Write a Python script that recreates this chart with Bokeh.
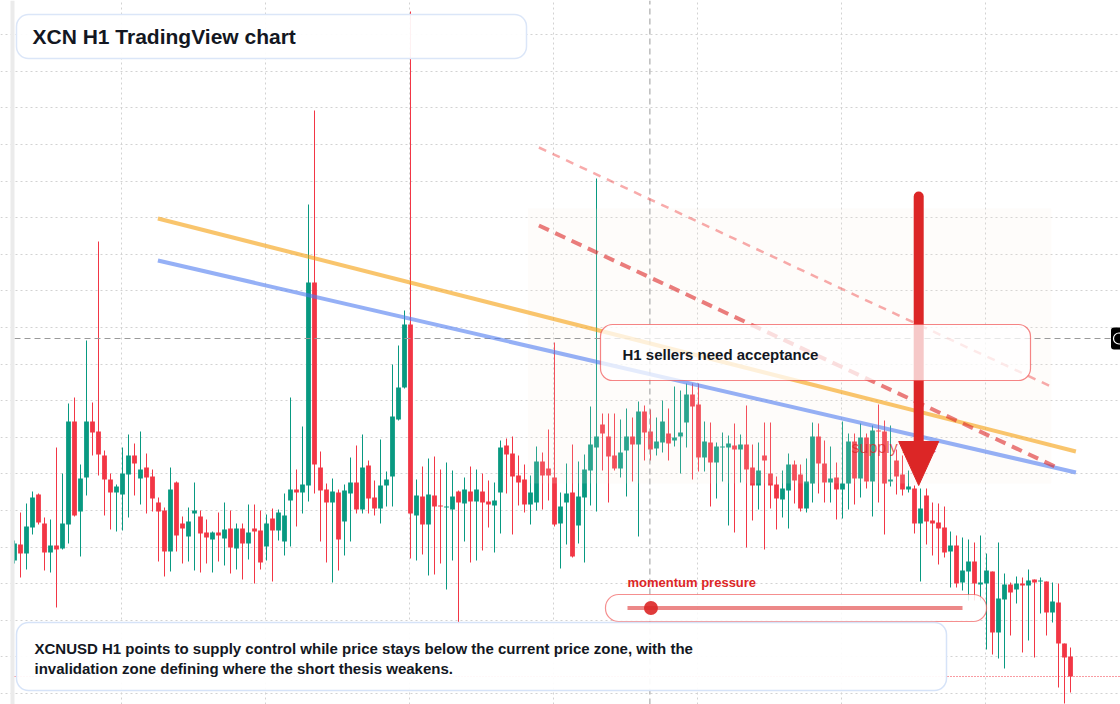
import numpy as np
from bokeh.plotting import figure
from bokeh.models import Range1d, Grid, FixedTicker
from bokeh.core.properties import value
from bokeh.embed import file_html
from bokeh.resources import INLINE

# XCNUSD hourly candles, quoted in millionths of a USD
open_ = [6088, 6120, 6102, 6154, 6220, 6162, 6104, 6118, 6112, 6160,
         6366, 6186, 6254, 6366, 6346, 6298, 6250, 6224, 6220, 6260,
         6298, 6252, 6274, 6256, 6204, 6188, 6106, 6244, 6162, 6136,
         6182, 6176, 6144, 6130, 6144, 6132, 6152, 6112, 6152, 6122,
         6152, 6148, 6116, 6172, 6148, 6126, 6208, 6230, 6224, 6238,
         6644, 6274, 6230, 6204, 6224, 6166, 6222, 6244, 6190, 6278,
         6214, 6192, 6238, 6256, 6370, 6434, 6560, 6178, 6216, 6160,
         6218, 6198, 6194, 6190, 6226, 6202, 6226, 6206, 6226, 6206,
         6198, 6224, 6318, 6302, 6258, 6250, 6200, 6204, 6286, 6272,
         6254, 6162, 6204, 6224, 6158, 6214, 6268, 6314, 6360, 6336,
         6298, 6272, 6308, 6336, 6320, 6386, 6346, 6312, 6324, 6342,
         6328, 6336, 6364, 6420, 6400, 6294, 6324, 6284, 6314, 6314,
         6318, 6310, 6320, 6274, 6238, 6298, 6262, 6240, 6210, 6228,
         6280, 6260, 6192, 6242, 6336, 6282, 6244, 6254, 6230, 6242,
         6326, 6252, 6334, 6246, 6348, 6346, 6246, 6288, 6260, 6230,
         6232, 6162, 6218, 6168, 6164, 6154, 6106, 6118, 6044, 6066,
         6086, 6040, 6042, 6066, 5944, 6010, 6040, 6030, 6042, 6038,
         6050, 6046, 6046, 5984, 6004, 5922, 5896]
high = [6128, 6184, 6202, 6226, 6222, 6174, 6170, 6314, 6262, 6402,
        6414, 6280, 6528, 6404, 6726, 6308, 6262, 6240, 6314, 6340,
        6322, 6346, 6302, 6270, 6214, 6194, 6274, 6246, 6176, 6194,
        6244, 6188, 6170, 6146, 6184, 6204, 6188, 6162, 6162, 6200,
        6200, 6188, 6180, 6192, 6190, 6222, 6414, 6270, 6356, 6800,
        6988, 6306, 6242, 6252, 6230, 6240, 6294, 6318, 6340, 6288,
        6248, 6330, 6266, 6480, 6518, 6588, 7186, 6250, 6276, 6292,
        6296, 6270, 6284, 6268, 6228, 6254, 6276, 6270, 6262, 6248,
        6244, 6328, 6332, 6336, 6298, 6280, 6258, 6316, 6304, 6350,
        6524, 6224, 6282, 6320, 6286, 6300, 6396, 6852, 6382, 6382,
        6382, 6370, 6392, 6374, 6406, 6398, 6390, 6374, 6408, 6392,
        6436, 6428, 6442, 6442, 6442, 6366, 6364, 6324, 6344, 6338,
        6362, 6340, 6398, 6320, 6324, 6364, 6364, 6256, 6268, 6302,
        6288, 6280, 6292, 6364, 6362, 6328, 6316, 6284, 6366, 6342,
        6342, 6362, 6342, 6358, 6400, 6368, 6358, 6310, 6298, 6268,
        6238, 6232, 6232, 6204, 6202, 6196, 6146, 6138, 6134, 6130,
        6124, 6138, 6102, 6066, 6124, 6062, 6044, 6056, 6054, 6070,
        6050, 6054, 6046, 6044, 6042, 5922, 5914]
low = [6082, 6054, 6070, 6140, 6160, 6068, 6064, 5994, 6110, 6122,
       6176, 6096, 6218, 6298, 6258, 6178, 6150, 6146, 6148, 6174,
       6218, 6200, 6182, 6186, 6086, 6056, 6066, 6106, 6082, 6086,
       6068, 6064, 6082, 6064, 6086, 6078, 6062, 6070, 6050, 6090,
       6042, 6070, 6088, 6046, 6128, 6098, 6116, 6156, 6182, 6206,
       6222, 6126, 6084, 6044, 6068, 6098, 6126, 6182, 6182, 6182,
       6178, 6162, 6196, 6196, 6368, 6432, 6092, 6088, 6100, 6058,
       6060, 6082, 6030, 6088, 5962, 6126, 6084, 6088, 6108, 6154,
       6104, 6142, 6222, 6140, 6198, 6184, 6160, 6188, 6190, 6208,
       6156, 6072, 6120, 6094, 6122, 6084, 6198, 6186, 6268, 6204,
       6268, 6254, 6216, 6246, 6136, 6288, 6288, 6298, 6304, 6288,
       6316, 6262, 6314, 6250, 6266, 6266, 6196, 6212, 6246, 6158,
       6144, 6244, 6114, 6168, 6190, 6110, 6192, 6150, 6174, 6152,
       6202, 6186, 6184, 6204, 6222, 6204, 6204, 6170, 6172, 6190,
       6200, 6214, 6232, 6176, 6204, 6140, 6236, 6220, 6218, 6224,
       6142, 6046, 6120, 6098, 6080, 6094, 6034, 6034, 6028, 6008,
       6008, 6008, 5910, 5900, 5892, 5872, 5938, 6002, 5904, 5928,
       5894, 5982, 5938, 5964, 5834, 5802, 5824]
close = [6122, 6102, 6156, 6214, 6164, 6104, 6118, 6110, 6162, 6366,
         6178, 6252, 6366, 6344, 6300, 6250, 6224, 6236, 6262, 6298,
         6282, 6270, 6254, 6212, 6186, 6106, 6230, 6138, 6152, 6166,
         6188, 6142, 6134, 6144, 6138, 6150, 6114, 6152, 6122, 6144,
         6146, 6084, 6162, 6148, 6184, 6178, 6230, 6224, 6240, 6644,
         6280, 6228, 6204, 6226, 6130, 6228, 6244, 6190, 6274, 6212,
         6192, 6238, 6250, 6376, 6434, 6560, 6182, 6218, 6160, 6220,
         6196, 6196, 6196, 6216, 6204, 6230, 6206, 6230, 6204, 6200,
         6208, 6314, 6300, 6256, 6244, 6200, 6224, 6286, 6258, 6258,
         6160, 6196, 6222, 6096, 6216, 6270, 6320, 6336, 6342, 6296,
         6272, 6304, 6336, 6320, 6386, 6344, 6310, 6326, 6366, 6322,
         6334, 6344, 6420, 6396, 6294, 6326, 6284, 6316, 6316, 6322,
         6310, 6320, 6270, 6238, 6268, 6288, 6238, 6212, 6232, 6280,
         6248, 6192, 6246, 6336, 6282, 6244, 6252, 6230, 6242, 6326,
         6252, 6334, 6246, 6348, 6346, 6242, 6250, 6256, 6230, 6236,
         6162, 6192, 6166, 6162, 6152, 6104, 6118, 6042, 6068, 6086,
         6042, 6044, 6068, 5944, 6012, 6040, 6024, 6042, 6038, 6048,
         6044, 6048, 5984, 6006, 5922, 5894, 5856]

# drawn structure: (bar index, price in millionths of a USD)
orange_trend_bar = [23.9, 176.9]
orange_trend_price = [6772, 6306]
blue_trend_bar = [23.9, 176.9]
blue_trend_price = [6688, 6264]
sell_path_bar = [87.4, 173.4]
sell_path_price = [6758, 6276]
outer_path_bar = [87.4, 173.1]
outer_path_price = [6914, 6434]
supply_zone_bar = [85.6, 172.8]
supply_zone_price = [6242, 6792]
arrow_bar = 150.7
arrow_price = [6816, 6326, 6238]   # tail, head base, tip
cursor_bar = 105.9
cursor_price = 6532
momentum_level = 0.07              # position of the pressure marker, 0..1

UNIT = 1e-6
o = np.array(open_) * UNIT
h = np.array(high) * UNIT
l = np.array(low) * UNIT
c = np.array(close) * UNIT
idx = np.arange(len(o))
up = c >= o

GREEN, RED = "#089981", "#f23645"
INK = "#131722"
FONT = value("Liberation Sans")

# screen geometry
W, H = 1120, 704
BAR0_PX, BAR_PX = 14.0, 6.0
TOP_PRICE, PX_PRICE = 0.007208, 2e-6


def bx(px):
    return (px - BAR0_PX) / BAR_PX


def py(px):
    return TOP_PRICE - px * PX_PRICE


p = figure(width=W, height=H, output_backend="svg", toolbar_location=None,
           x_range=Range1d(bx(0), bx(W)), y_range=Range1d(py(H), py(0)),
           x_axis_type=None, y_axis_type=None, min_border=0,
           outline_line_color=None, background_fill_color="white",
           border_fill_color="white")

# dotted grid
xt = [bx(121 + 144 * n) for n in range(7)]
yt = [py(693 - 36.6 * n) for n in range(19)]
for dim, ticks in ((0, xt), (1, yt)):
    g = Grid(dimension=dim, ticker=FixedTicker(ticks=ticks),
             grid_line_color="#d2d2d2", grid_line_dash="2 3",
             grid_line_width=1)
    p.add_layout(g)

# candles
for mask, col in ((up, GREEN), (~up, RED)):
    p.segment(idx[mask], l[mask], idx[mask], h[mask], line_color=col,
              line_width=1)
    p.vbar(x=idx[mask], width=0.8, top=np.maximum(o, c)[mask],
           bottom=np.minimum(o, c)[mask], fill_color=col, line_color=None)

# supply zone wash
zb = np.array(supply_zone_price) * UNIT
p.quad(left=[supply_zone_bar[0]], right=[supply_zone_bar[1]],
       bottom=[zb[0]], top=[zb[1]], fill_color="#f7e9dc", fill_alpha=0.15,
       line_color=None)

# cursor crosshair
p.segment([cursor_bar], [py(H)], [cursor_bar], [py(0)], line_color="#9a9a9a",
          line_dash="6 4", line_width=1)
p.segment([bx(14)], [cursor_price * UNIT], [bx(1110)], [cursor_price * UNIT],
          line_color="#9a9a9a", line_dash="6 4", line_width=1)

# trend lines
p.line(orange_trend_bar, np.array(orange_trend_price) * UNIT,
       line_color="#f59e0b", line_alpha=0.6, line_width=4)
p.line(blue_trend_bar, np.array(blue_trend_price) * UNIT,
       line_color="#4f7cf0", line_alpha=0.6, line_width=4)
p.line(outer_path_bar, np.array(outer_path_price) * UNIT,
       line_color="#ef4444", line_alpha=0.45, line_width=2.5,
       line_dash="8 7")
p.line(sell_path_bar, np.array(sell_path_price) * UNIT,
       line_color="#dc2626", line_alpha=0.6, line_width=4,
       line_dash="11 7")

# last price line
p.segment([bx(14)], [c[-1]], [bx(W)], [c[-1]], line_color=RED,
          line_dash="1 2", line_width=1)

# supply zone caption
p.text([bx(851)], [py(447)], text=["supply zone"], text_font=FONT,
       text_font_size="16px", text_color="#dc2626", text_alpha=0.75,
       text_baseline="middle", text_align="left")

# down arrow
ap = np.array(arrow_price) * UNIT
p.segment([arrow_bar], [ap[0]], [arrow_bar], [ap[1]], line_color="#dc2626",
          line_width=10, line_cap="round")
hw = 20 / BAR_PX
p.patch([arrow_bar - hw, arrow_bar + hw, arrow_bar], [ap[1], ap[1], ap[2]],
        fill_color="#dc2626", line_color="#dc2626", line_width=1)


def card(x0, x1, y0, y1, line, fill_alpha, radius, lw=1.5, line_alpha=1.0):
    p.quad(left=[bx(x0)], right=[bx(x1)], top=[py(y0)], bottom=[py(y1)],
           fill_color="white", fill_alpha=fill_alpha, line_color=line,
           line_alpha=line_alpha, line_width=lw, border_radius=radius)


def label(x, y, s, size, color=INK, bold=True, alpha=1.0):
    p.text([bx(x)], [py(y)], text=[s], text_font=FONT,
           text_font_size=size, text_color=color, text_alpha=alpha,
           text_font_style="bold" if bold else "normal",
           text_baseline="middle", text_align="left")


# thesis card
card(600, 1030, 324, 380, "#ef4444", 0.75, 12, lw=1.2, line_alpha=0.65)
label(622, 354, "H1 sellers need acceptance", "15px")

# momentum gauge
label(627, 582, "momentum pressure", "13px", color="#dc2626")
card(605, 986, 594, 621, "#ef4444", 0.85, 13, lw=1.2, line_alpha=0.6)
g0, g1 = 627, 962
p.segment([bx(g0)], [py(607.5)], [bx(g1)], [py(607.5)], line_color="#dc2626",
          line_alpha=0.55, line_width=4)
p.scatter([bx(g0 + momentum_level * (g1 - g0))], [py(607.5)], size=14,
          fill_color="#dc2626", fill_alpha=0.9, line_color=None)

# title card
card(16, 526, 14, 58, "#dbe6f8", 0.93, 12)
label(32, 36, "XCN H1 TradingView chart", "21px")

# summary card
card(16, 946, 622, 690, "#d6e3f8", 0.93, 12)
label(34, 647.5, "XCNUSD H1 points to supply control while price stays below "
      "the current price zone, with the", "15px")
label(34, 668, "invalidation zone defining where the short thesis weakens.",
      "15px")

# crosshair price tag stub and left pane edge
p.quad(left=[bx(1110.5)], right=[bx(1124)], top=[py(327)], bottom=[py(349)],
       fill_color="#000000", line_color=None, border_radius=3)
p.scatter([bx(1118.5)], [py(338)], size=11, fill_color=None,
          line_color="white", line_width=1.2)
p.quad(left=[bx(10)], right=[bx(14)], top=[py(0)], bottom=[py(H)],
       fill_color="#ebebeb", line_color=None)

open("out.html", "w").write(file_html(p, INLINE))
